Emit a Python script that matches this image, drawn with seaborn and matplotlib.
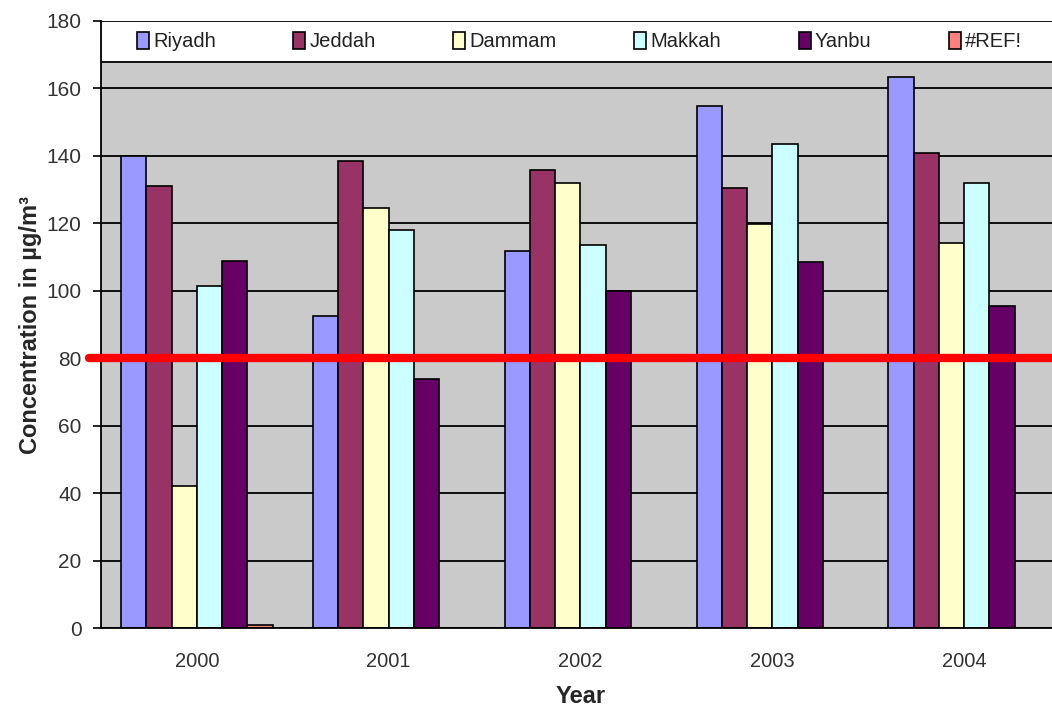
import matplotlib
matplotlib.use("Agg")
import matplotlib.pyplot as plt
import seaborn as sns
import pandas as pd
from matplotlib.patches import Patch, Rectangle

# Annual mean concentrations by city
years = ["2000", "2001", "2002", "2003", "2004"]
cities = ["Riyadh", "Jeddah", "Dammam", "Makkah", "Yanbu", "#REF!"]
riyadh = [140, 92.6, 111.8, 154.8, 163.4]
jeddah = [131, 138.5, 135.8, 130.6, 140.8]
dammam = [42, 124.5, 132, 119.7, 114.1]
makkah = [101.5, 118, 113.6, 143.4, 131.9]
yanbu = [108.8, 73.8, 100, 108.5, 95.6]
ref_err = [1, 0, 0, 0, 0]
limit_value = 80
y_ticks = [0, 20, 40, 60, 80, 100, 120, 140, 160, 180]

series = [riyadh, jeddah, dammam, makkah, yanbu, ref_err]
colors = ["#9999FF", "#993366", "#FFFFCC", "#CCFFFF", "#660066", "#FF8080"]
palette = dict(zip(cities, colors))

rows = []
for city, vals in zip(cities, series):
    for yr, v in zip(years, vals):
        rows.append({"Year": yr, "City": city, "Value": v})
df = pd.DataFrame(rows)

sns.set_style("white")
plt.rcParams["font.family"] = ["Liberation Sans", "DejaVu Sans"]

fig = plt.figure(figsize=(10.52, 7.11), dpi=100)
ax = fig.add_axes([0.096, 0.1167, 0.9116, 0.8538])
ax.set_facecolor("#CACACA")

sns.barplot(data=df, x="Year", y="Value", hue="City", order=years,
            hue_order=cities, palette=palette, width=0.79,
            edgecolor="black", linewidth=1.2, saturation=1,
            legend=False, ax=ax)

ax.set_axisbelow(True)
ax.yaxis.grid(True, color="black", linewidth=1.3)
ax.xaxis.grid(False)
ax.set_ylim(0, 180)
ax.set_xlim(-0.5, len(years) - 0.5)
ax.set_yticks(y_ticks)

# Category labels centred, tick marks on group boundaries
ax.set_xticks(range(len(years)))
ax.set_xticklabels(years)
ax.set_xticks([i - 0.5 for i in range(len(years) + 1)], minor=True)
ax.tick_params(axis="x", which="major", length=0, pad=17, labelsize=14.5,
               labelcolor="#333333")
ax.tick_params(axis="x", which="minor", length=6, width=1.2, color="black",
               direction="out")
ax.tick_params(axis="y", length=6, width=1.2, color="black", direction="out",
               labelsize=15, labelcolor="#333333", left=True, pad=8)

for side in ["top", "right"]:
    ax.spines[side].set_visible(False)
for side in ["left", "bottom"]:
    ax.spines[side].set_color("black")
    ax.spines[side].set_linewidth(1.3)

# Limit value line
ax.axhline(limit_value, xmin=-0.012, xmax=1, color="#FF0000", linewidth=6,
           zorder=5, clip_on=False)

ax.set_xlabel("Year", fontsize=17, fontweight="bold", labelpad=10)
ax.set_ylabel("Concentration in µg/m³", fontsize=17, fontweight="bold",
              labelpad=3)

# Legend box across the top of the plot area
box = Rectangle((0, 0.9325), 1.0, 0.0675, transform=ax.transAxes,
                facecolor="white", edgecolor="black", linewidth=1.3,
                zorder=6)
ax.add_patch(box)

handles = [Patch(facecolor=c, edgecolor="black", linewidth=1.2) for c in colors]
leg = ax.legend(handles, cities, ncol=6, loc="center",
                bbox_to_anchor=(0.0375, 0.9325, 0.923, 0.0675), mode="expand",
                borderaxespad=0, fontsize=14.5, frameon=False,
                handlelength=0.6, handleheight=0.9, handletextpad=0.2,
                borderpad=0.0, columnspacing=1.0)
leg.set_zorder(7)
for t in leg.get_texts():
    t.set_color("#222222")

fig.savefig("out.png", dpi=100)
